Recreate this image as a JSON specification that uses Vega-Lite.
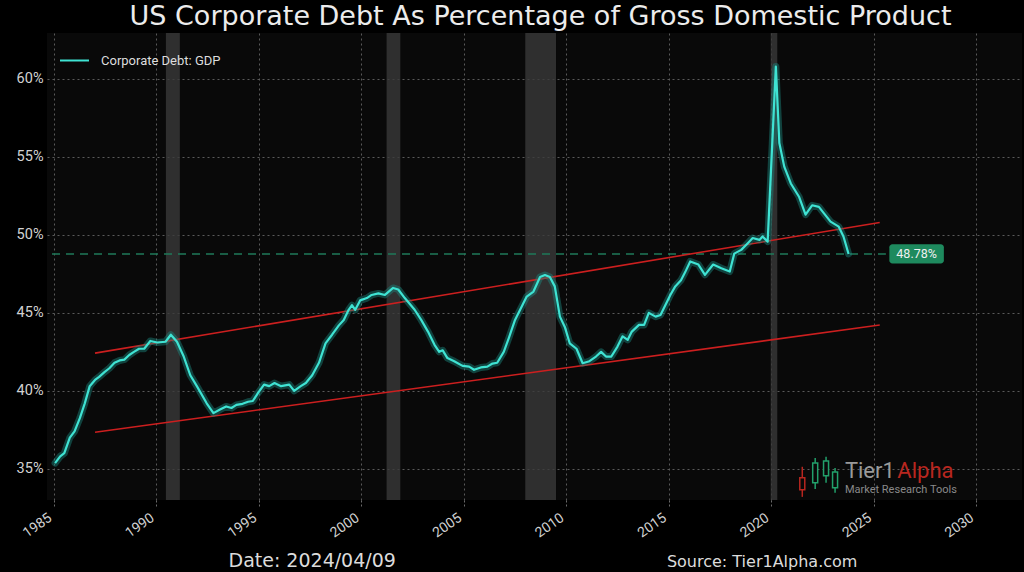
{
  "$schema": "https://vega.github.io/schema/vega-lite/v6.json",
  "width": 975,
  "height": 467,
  "autosize": {"type": "none"},
  "padding": {"left": 47, "top": 33, "right": 2, "bottom": 72},
  "background": "#000000",
  "title": {"text": "US Corporate Debt As Percentage of Gross Domestic Product", "fontSize": 27, "font": "DejaVu Sans", "fontWeight": "normal", "color": "#ececec", "anchor": "middle", "offset": 2, "dx": 6},
  "config": {
    "font": "Roboto",
    "view": {"fill": "#090909", "stroke": null},
    "axis": {"grid": true, "gridColor": "#5a5a5a", "gridDash": [2, 3], "gridWidth": 1, "domain": false, "tickColor": "#6a6a6a", "tickDash": [2, 2], "tickSize": 6, "labelColor": "#d2d2d2", "labelFont": "Roboto", "title": null},
    "axisX": {"tickCount": 10, "format": "d", "labelAngle": -35, "labelAlign": "right", "labelBaseline": "bottom", "labelFontSize": 14, "labelPadding": 16},
    "axisY": {"tickCount": 6, "labelExpr": "datum.value + '%'", "labelFontSize": 14.5, "labelPadding": 4, "tickSize": 0},
    "legend": {"orient": "none", "legendX": 10, "legendY": 10, "padding": 2, "labelColor": "#dddddd", "labelFontSize": 13, "labelFont": "Roboto", "labelOffset": 11, "symbolType": "stroke", "symbolSize": 840, "symbolStrokeWidth": 2, "title": null}
  },
  "datasets": {
    "debt": [
      {"year": 1985.05, "value": 35.37}, {"year": 1985.3, "value": 35.8}, {"year": 1985.5, "value": 36.0}, {"year": 1985.77, "value": 37.0},
      {"year": 1986.0, "value": 37.4}, {"year": 1986.26, "value": 38.25}, {"year": 1986.5, "value": 39.2}, {"year": 1986.74, "value": 40.3},
      {"year": 1987.0, "value": 40.7}, {"year": 1987.2, "value": 40.9}, {"year": 1987.46, "value": 41.2}, {"year": 1987.7, "value": 41.45},
      {"year": 1987.95, "value": 41.8}, {"year": 1988.2, "value": 41.95}, {"year": 1988.43, "value": 42.0}, {"year": 1988.67, "value": 42.3},
      {"year": 1988.9, "value": 42.5}, {"year": 1989.15, "value": 42.7}, {"year": 1989.4, "value": 42.7}, {"year": 1989.7, "value": 43.2},
      {"year": 1990.04, "value": 43.1}, {"year": 1990.44, "value": 43.15}, {"year": 1990.7, "value": 43.6}, {"year": 1991.0, "value": 43.15},
      {"year": 1991.33, "value": 42.2}, {"year": 1991.65, "value": 41.0}, {"year": 1991.97, "value": 40.3}, {"year": 1992.45, "value": 39.2},
      {"year": 1992.78, "value": 38.57}, {"year": 1993.1, "value": 38.8}, {"year": 1993.4, "value": 39.0}, {"year": 1993.66, "value": 38.9},
      {"year": 1993.9, "value": 39.1}, {"year": 1994.2, "value": 39.17}, {"year": 1994.47, "value": 39.3}, {"year": 1994.7, "value": 39.35},
      {"year": 1994.95, "value": 39.85}, {"year": 1995.25, "value": 40.4}, {"year": 1995.5, "value": 40.3}, {"year": 1995.76, "value": 40.5},
      {"year": 1996.08, "value": 40.3}, {"year": 1996.48, "value": 40.4}, {"year": 1996.72, "value": 40.0}, {"year": 1997.04, "value": 40.3},
      {"year": 1997.29, "value": 40.5}, {"year": 1997.6, "value": 41.0}, {"year": 1997.93, "value": 41.8}, {"year": 1998.25, "value": 43.05},
      {"year": 1998.57, "value": 43.6}, {"year": 1998.9, "value": 44.2}, {"year": 1999.14, "value": 44.55}, {"year": 1999.38, "value": 45.2},
      {"year": 1999.54, "value": 45.5}, {"year": 1999.7, "value": 45.2}, {"year": 1999.94, "value": 45.8}, {"year": 2000.27, "value": 45.95},
      {"year": 2000.5, "value": 46.15}, {"year": 2000.83, "value": 46.25}, {"year": 2001.15, "value": 46.15}, {"year": 2001.55, "value": 46.6},
      {"year": 2001.8, "value": 46.5}, {"year": 2002.12, "value": 45.95}, {"year": 2002.6, "value": 45.2}, {"year": 2002.92, "value": 44.55},
      {"year": 2003.25, "value": 43.8}, {"year": 2003.57, "value": 42.95}, {"year": 2003.8, "value": 42.5}, {"year": 2003.97, "value": 42.6},
      {"year": 2004.2, "value": 42.1}, {"year": 2004.53, "value": 41.9}, {"year": 2004.94, "value": 41.6}, {"year": 2005.26, "value": 41.55},
      {"year": 2005.5, "value": 41.35}, {"year": 2005.83, "value": 41.5}, {"year": 2006.15, "value": 41.55}, {"year": 2006.4, "value": 41.75},
      {"year": 2006.63, "value": 41.8}, {"year": 2006.95, "value": 42.5}, {"year": 2007.2, "value": 43.4}, {"year": 2007.5, "value": 44.55},
      {"year": 2007.9, "value": 45.6}, {"year": 2008.07, "value": 46.05}, {"year": 2008.4, "value": 46.37}, {"year": 2008.72, "value": 47.3},
      {"year": 2008.96, "value": 47.43}, {"year": 2009.2, "value": 47.3}, {"year": 2009.44, "value": 46.7}, {"year": 2009.69, "value": 44.76},
      {"year": 2009.93, "value": 44.1}, {"year": 2010.17, "value": 43.05}, {"year": 2010.5, "value": 42.7}, {"year": 2010.8, "value": 41.77},
      {"year": 2011.13, "value": 41.9}, {"year": 2011.45, "value": 42.2}, {"year": 2011.7, "value": 42.5}, {"year": 2011.94, "value": 42.2},
      {"year": 2012.2, "value": 42.2}, {"year": 2012.5, "value": 42.84}, {"year": 2012.75, "value": 43.5}, {"year": 2013.0, "value": 43.27},
      {"year": 2013.2, "value": 43.8}, {"year": 2013.55, "value": 44.23}, {"year": 2013.8, "value": 44.23}, {"year": 2014.03, "value": 45.0},
      {"year": 2014.36, "value": 44.76}, {"year": 2014.6, "value": 44.87}, {"year": 2014.84, "value": 45.5}, {"year": 2015.08, "value": 46.15},
      {"year": 2015.32, "value": 46.7}, {"year": 2015.6, "value": 47.1}, {"year": 2015.8, "value": 47.6}, {"year": 2016.05, "value": 48.3},
      {"year": 2016.45, "value": 48.1}, {"year": 2016.77, "value": 47.44}, {"year": 2017.17, "value": 48.1}, {"year": 2017.57, "value": 47.86},
      {"year": 2017.98, "value": 47.65}, {"year": 2018.2, "value": 48.8}, {"year": 2018.54, "value": 49.04}, {"year": 2018.86, "value": 49.47},
      {"year": 2019.1, "value": 49.8}, {"year": 2019.43, "value": 49.68}, {"year": 2019.58, "value": 49.9}, {"year": 2019.83, "value": 49.57},
      {"year": 2020.23, "value": 60.8}, {"year": 2020.4, "value": 55.9}, {"year": 2020.64, "value": 54.38}, {"year": 2020.96, "value": 53.3},
      {"year": 2021.36, "value": 52.45}, {"year": 2021.68, "value": 51.3}, {"year": 2022.0, "value": 51.9}, {"year": 2022.33, "value": 51.8},
      {"year": 2022.57, "value": 51.4}, {"year": 2022.9, "value": 50.85}, {"year": 2023.3, "value": 50.53}, {"year": 2023.53, "value": 49.9},
      {"year": 2023.78, "value": 48.78}
    ],
    "recessions": [
      {"start": 1990.46, "end": 1991.14}, {"start": 2001.23, "end": 2001.9}, {"start": 2008.0, "end": 2009.5}, {"start": 2019.98, "end": 2020.3}
    ],
    "trend": [
      {"line": "upper", "year": 1987.0, "value": 42.42}, {"line": "upper", "year": 2025.3, "value": 50.8},
      {"line": "lower", "year": 1987.0, "value": 37.35}, {"line": "lower", "year": 2025.3, "value": 44.22}
    ],
    "level": [{"start": 1984.9, "end": 2025.6, "value": 48.78, "label": "48.78%", "boxStart": 2025.77, "boxEnd": 2028.43, "mid": 2027.1}],
    "candles": [
      {"year": 2021.52, "lo": 33.2, "hi": 35.13, "open": 34.42, "close": 33.65, "dir": "down"},
      {"year": 2022.15, "lo": 33.7, "hi": 35.7, "open": 34.1, "close": 35.38, "dir": "up"},
      {"year": 2022.68, "lo": 34.1, "hi": 35.77, "open": 34.55, "close": 35.5, "dir": "up"},
      {"year": 2023.12, "lo": 33.46, "hi": 35.06, "open": 33.78, "close": 34.8, "dir": "up"}
    ],
    "logo": [
      {"year": 2023.6, "value": 34.42, "text": "Tier1", "part": "name"},
      {"year": 2026.16, "value": 34.42, "text": "Alpha", "part": "accent"}
    ],
    "tagline": [{"year": 2023.6, "value": 33.46, "text": "Market  Research Tools"}],
    "notes": [
      {"year": 1997.6, "value": 28.7, "text": "Date: 2024/04/09", "kind": "date"},
      {"year": 2019.56, "value": 28.7, "text": "Source: Tier1Alpha.com", "kind": "source"}
    ]
  },
  "layer": [
    {
      "data": {"name": "recessions"},
      "mark": {"type": "rect", "color": "#3a3a3a", "opacity": 0.8},
      "encoding": {
        "x": {"field": "start", "type": "quantitative", "scale": {"domain": [1984.9, 2032.0], "nice": false, "zero": false}, "title": null},
        "x2": {"field": "end"}
      }
    },
    {
      "data": {"name": "level"},
      "mark": {"type": "rule", "color": "#1f7a5a", "strokeWidth": 1.5, "strokeDash": [8, 6]},
      "encoding": {
        "x": {"field": "start", "type": "quantitative", "title": null},
        "x2": {"field": "end"},
        "y": {"field": "value", "type": "quantitative", "scale": {"domain": [33, 62.95], "nice": false, "zero": false}, "title": null}
      }
    },
    {
      "data": {"name": "trend"},
      "mark": {"type": "line", "color": "#cc1f1f", "strokeWidth": 1.6},
      "encoding": {
        "x": {"field": "year", "type": "quantitative", "title": null},
        "y": {"field": "value", "type": "quantitative", "title": null},
        "detail": {"field": "line"}
      }
    },
    {
      "data": {"name": "debt"},
      "mark": {"type": "line", "color": "#1d8a80", "strokeWidth": 7, "opacity": 0.45, "strokeJoin": "round", "strokeCap": "round"},
      "encoding": {
        "x": {"field": "year", "type": "quantitative", "title": null},
        "y": {"field": "value", "type": "quantitative", "title": null}
      }
    },
    {
      "data": {"name": "debt"},
      "transform": [{"calculate": "'Corporate Debt: GDP'", "as": "series"}],
      "mark": {"type": "line", "strokeWidth": 2.2, "strokeJoin": "round"},
      "encoding": {
        "x": {"field": "year", "type": "quantitative", "title": null},
        "y": {"field": "value", "type": "quantitative", "title": null},
        "color": {"field": "series", "type": "nominal", "scale": {"range": ["#3fe3d3"]}, "legend": {"title": null}}
      }
    },
    {
      "data": {"name": "level"},
      "transform": [{"calculate": "datum.value - 0.62", "as": "boxLo"}, {"calculate": "datum.value + 0.62", "as": "boxHi"}],
      "mark": {"type": "rect", "color": "#1e8a5e", "cornerRadius": 3},
      "encoding": {
        "x": {"field": "boxStart", "type": "quantitative", "title": null},
        "x2": {"field": "boxEnd"},
        "y": {"field": "boxLo", "type": "quantitative", "title": null},
        "y2": {"field": "boxHi"}
      }
    },
    {
      "data": {"name": "level"},
      "mark": {"type": "text", "color": "#f0f0f0", "fontSize": 12.5, "align": "center", "baseline": "middle"},
      "encoding": {
        "x": {"field": "mid", "type": "quantitative", "title": null},
        "y": {"field": "value", "type": "quantitative", "title": null},
        "text": {"field": "label"}
      }
    },
    {
      "data": {"name": "candles"},
      "mark": {"type": "rule", "strokeWidth": 1.5},
      "encoding": {
        "x": {"field": "year", "type": "quantitative", "title": null},
        "y": {"field": "lo", "type": "quantitative", "title": null},
        "y2": {"field": "hi"},
        "stroke": {"condition": {"test": "datum.dir == 'down'", "value": "#b8261f"}, "value": "#22a06b"}
      }
    },
    {
      "data": {"name": "candles"},
      "mark": {"type": "bar", "size": 5, "fill": "#090909", "strokeWidth": 1.5},
      "encoding": {
        "x": {"field": "year", "type": "quantitative", "title": null},
        "y": {"field": "open", "type": "quantitative", "title": null},
        "y2": {"field": "close"},
        "stroke": {"condition": {"test": "datum.dir == 'down'", "value": "#b8261f"}, "value": "#22a06b"}
      }
    },
    {
      "data": {"name": "logo"},
      "mark": {"type": "text", "fontSize": 22, "align": "left", "baseline": "alphabetic"},
      "encoding": {
        "x": {"field": "year", "type": "quantitative", "title": null},
        "y": {"field": "value", "type": "quantitative", "title": null},
        "text": {"field": "text"},
        "fill": {"condition": {"test": "datum.part == 'accent'", "value": "#b8261f"}, "value": "#9a9a9a"}
      }
    },
    {
      "data": {"name": "tagline"},
      "mark": {"type": "text", "fontSize": 11, "align": "left", "baseline": "alphabetic", "color": "#8a8a8a"},
      "encoding": {
        "x": {"field": "year", "type": "quantitative", "title": null},
        "y": {"field": "value", "type": "quantitative", "title": null},
        "text": {"field": "text"}
      }
    },
    {
      "data": {"name": "notes"},
      "mark": {"type": "text", "font": "DejaVu Sans", "align": "center", "baseline": "alphabetic", "color": "#dcdcdc", "clip": false},
      "encoding": {
        "x": {"field": "year", "type": "quantitative", "title": null},
        "y": {"field": "value", "type": "quantitative", "title": null},
        "text": {"field": "text"},
        "size": {"condition": {"test": "datum.kind == 'date'", "value": 19}, "value": 16}
      }
    }
  ]
}
